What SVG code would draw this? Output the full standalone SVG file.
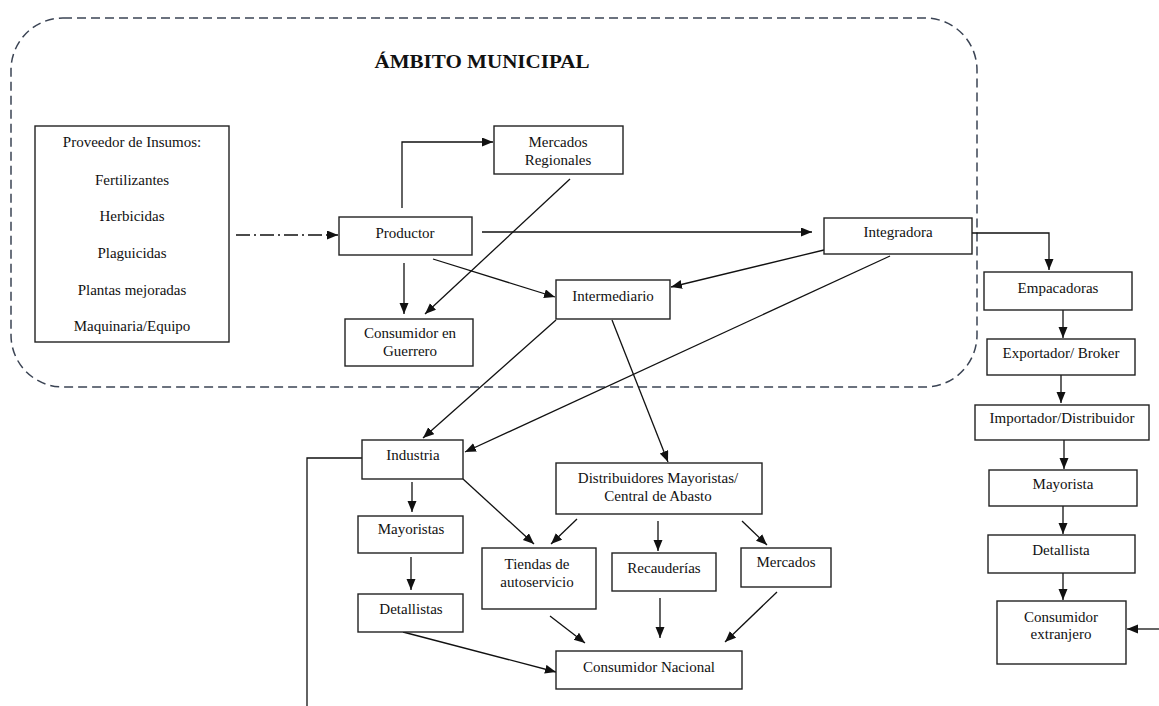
<svg xmlns="http://www.w3.org/2000/svg" width="1159" height="706" viewBox="0 0 1159 706">
<style>
.box{fill:#fff;stroke:#222;stroke-width:1.4}
.t{font-family:"Liberation Serif","Times New Roman",serif;font-size:15px;fill:#111;text-anchor:middle}
.c{fill:none;stroke:#111;stroke-width:1.3}
.a{marker-end:url(#ah)}
</style>
<defs>
<marker id="ah" markerUnits="userSpaceOnUse" markerWidth="12" markerHeight="10" refX="11" refY="4.5" orient="auto">
<path d="M0,0 L11,4.5 L0,9 z" fill="#111"/>
</marker>
</defs>
<rect width="1159" height="706" fill="#fff"/>
<g id="ambito">
<rect x="11" y="18" width="966" height="369" rx="52" ry="52" fill="none" stroke="#3b4454" stroke-width="1.5" stroke-dasharray="9 5"/>
<text x="482" y="68" font-family="Liberation Serif,'Times New Roman',serif" font-weight="bold" font-size="18" fill="#111" text-anchor="middle" textLength="215" lengthAdjust="spacingAndGlyphs">ÁMBITO MUNICIPAL</text>
</g>
<g id="connectors">
<line class="c a" x1="236" y1="235" x2="338" y2="235" stroke-dasharray="14 4 2 4"/>
<polyline class="c a" points="402,208 402,142 493,142"/>
<line class="c a" x1="404" y1="263" x2="404" y2="314"/>
<line class="c a" x1="570" y1="179" x2="425" y2="314"/>
<line class="c a" x1="482" y1="232" x2="812" y2="232"/>
<line class="c a" x1="433" y1="259" x2="555" y2="297"/>
<line class="c a" x1="824" y1="250" x2="671" y2="287"/>
<line class="c a" x1="890" y1="256" x2="465" y2="452"/>
<line class="c a" x1="556" y1="320" x2="423" y2="438"/>
<line class="c a" x1="612" y1="320" x2="668" y2="462"/>
<polyline class="c" points="362,458 307,458 307,706"/>
<line class="c a" x1="412" y1="482" x2="412" y2="512"/>
<line class="c a" x1="411" y1="557" x2="411" y2="590"/>
<line class="c a" x1="463" y1="479" x2="534" y2="544"/>
<line class="c a" x1="577" y1="519" x2="551" y2="544"/>
<line class="c a" x1="658" y1="521" x2="658" y2="551"/>
<line class="c a" x1="742" y1="521" x2="767" y2="545"/>
<line class="c a" x1="777" y1="592" x2="725" y2="642"/>
<line class="c a" x1="660" y1="598" x2="660" y2="638"/>
<line class="c a" x1="550" y1="616" x2="585" y2="643"/>
<line class="c a" x1="403" y1="632" x2="556" y2="672"/>
<polyline class="c a" points="972,233 1049,233 1049,270"/>
<line class="c a" x1="1063" y1="310" x2="1063" y2="338"/>
<line class="c a" x1="1061" y1="375" x2="1061" y2="403"/>
<line class="c a" x1="1064" y1="440" x2="1064" y2="469"/>
<line class="c a" x1="1063" y1="506" x2="1063" y2="534"/>
<line class="c a" x1="1063" y1="573" x2="1063" y2="600"/>
<line class="c a" x1="1159" y1="629" x2="1127" y2="629"/>
</g>
<g id="proveedor">
<rect class="box" x="35" y="126" width="194" height="216"/>
<text class="t" x="132" y="147">Proveedor de Insumos:</text>
<text class="t" x="132" y="185">Fertilizantes</text>
<text class="t" x="132" y="221">Herbicidas</text>
<text class="t" x="132" y="258">Plaguicidas</text>
<text class="t" x="132" y="295">Plantas mejoradas</text>
<text class="t" x="132" y="331">Maquinaria/Equipo</text>
</g>
<g id="productor">
<rect class="box" x="339" y="217" width="133" height="38"/>
<text class="t" x="405" y="238">Productor</text>
</g>
<g id="consumidor-guerrero">
<rect class="box" x="345" y="319" width="128" height="47"/>
<text class="t" x="410" y="338">Consumidor en</text>
<text class="t" x="410" y="356">Guerrero</text>
</g>
<g id="mercados-regionales">
<rect class="box" x="494" y="126" width="129" height="48"/>
<text class="t" x="558" y="147">Mercados</text>
<text class="t" x="558" y="165">Regionales</text>
</g>
<g id="integradora">
<rect class="box" x="824" y="218" width="148" height="36"/>
<text class="t" x="898" y="237">Integradora</text>
</g>
<g id="intermediario">
<rect class="box" x="556" y="280" width="114" height="39"/>
<text class="t" x="613" y="301">Intermediario</text>
</g>
<g id="industria">
<rect class="box" x="362" y="440" width="101" height="39"/>
<text class="t" x="413" y="460">Industria</text>
</g>
<g id="distribuidores">
<rect class="box" x="556" y="463" width="206" height="51"/>
<text class="t" x="658" y="483">Distribuidores Mayoristas/</text>
<text class="t" x="658" y="501">Central de Abasto</text>
</g>
<g id="mayoristas">
<rect class="box" x="358" y="516" width="105" height="37"/>
<text class="t" x="411" y="534">Mayoristas</text>
</g>
<g id="detallistas">
<rect class="box" x="358" y="594" width="105" height="38"/>
<text class="t" x="411" y="614">Detallistas</text>
</g>
<g id="tiendas">
<rect class="box" x="482" y="548" width="114" height="61"/>
<text class="t" x="537" y="569">Tiendas de</text>
<text class="t" x="537" y="587">autoservicio</text>
</g>
<g id="recauderias">
<rect class="box" x="612" y="553" width="104" height="38"/>
<text class="t" x="664" y="573">Recauderías</text>
</g>
<g id="mercados">
<rect class="box" x="741" y="548" width="90" height="39"/>
<text class="t" x="786" y="567">Mercados</text>
</g>
<g id="consumidor-nacional">
<rect class="box" x="556" y="651" width="186" height="38"/>
<text class="t" x="649" y="672">Consumidor Nacional</text>
</g>
<g id="empacadoras">
<rect class="box" x="984" y="272" width="148" height="38"/>
<text class="t" x="1058" y="293">Empacadoras</text>
</g>
<g id="exportador">
<rect class="box" x="987" y="339" width="148" height="36"/>
<text class="t" x="1061" y="358">Exportador/ Broker</text>
</g>
<g id="importador">
<rect class="box" x="975" y="405" width="174" height="35"/>
<text class="t" x="1062" y="423">Importador/Distribuidor</text>
</g>
<g id="mayorista">
<rect class="box" x="989" y="470" width="148" height="36"/>
<text class="t" x="1063" y="489">Mayorista</text>
</g>
<g id="detallista">
<rect class="box" x="988" y="535" width="147" height="38"/>
<text class="t" x="1061" y="555">Detallista</text>
</g>
<g id="consumidor-extranjero">
<rect class="box" x="997" y="601" width="129" height="63"/>
<text class="t" x="1061" y="622">Consumidor</text>
<text class="t" x="1061" y="639">extranjero</text>
</g>
</svg>
